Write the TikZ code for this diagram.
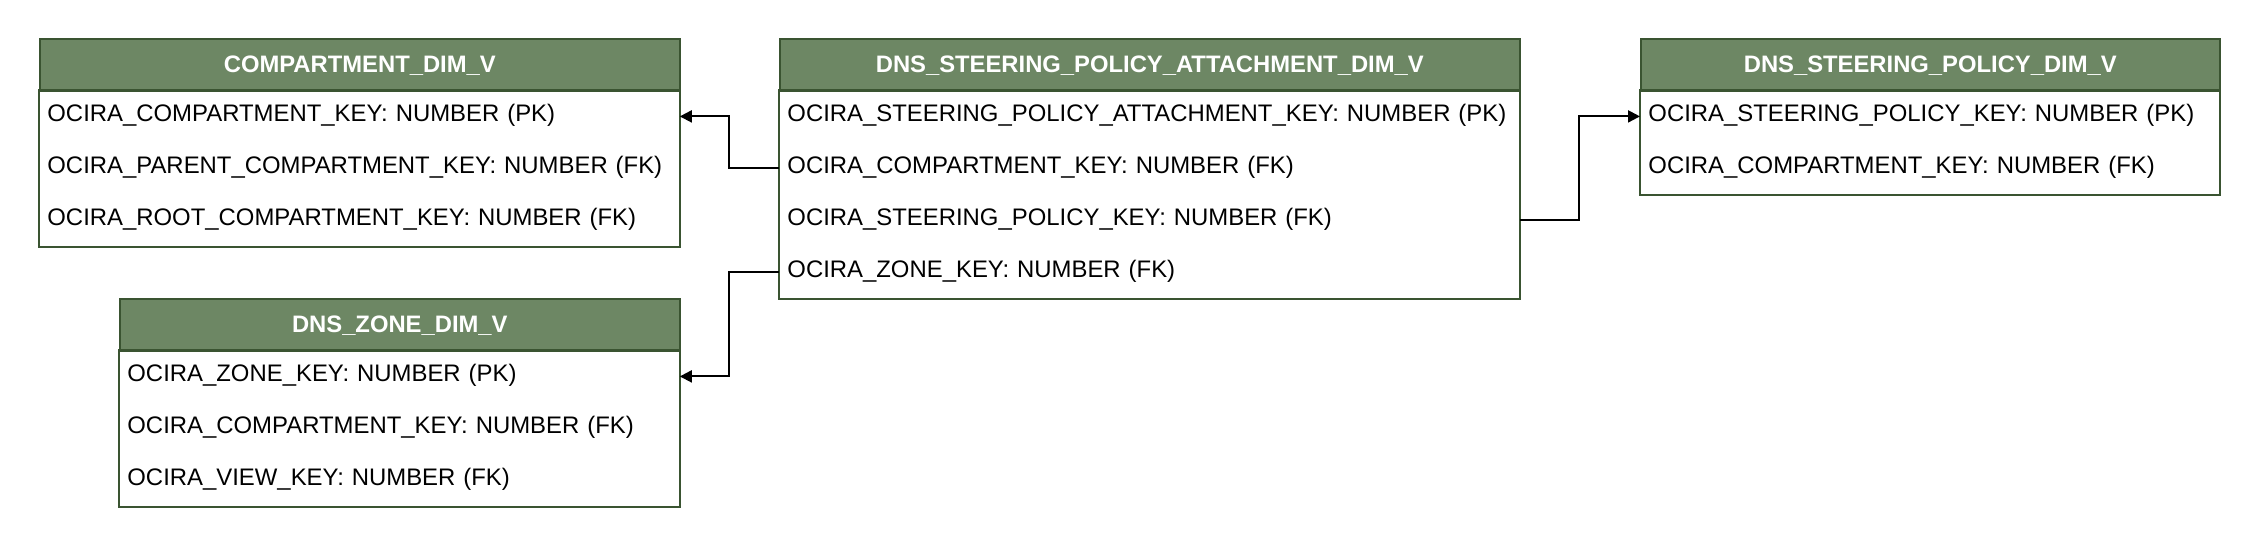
\documentclass[tikz,border=0pt]{standalone}
\usepackage{fontspec}
\setmainfont{Liberation Sans}
\usetikzlibrary{arrows.meta}
\definecolor{hdrfill}{HTML}{6D8764}
\definecolor{hdrline}{HTML}{3A5431}
\tikzset{
  hdr/.style={draw=hdrline, fill=hdrfill, line width=0.8pt, anchor=north west,
    minimum height=26pt, inner sep=0pt, text width=#1, align=center,
    font=\bfseries\fontsize{11.9}{14}\selectfont, text=white,
    text height=8.5pt, text depth=0.5pt},
  rowbox/.style={anchor=north west, minimum height=26pt, inner ysep=0pt,
    inner xsep=4pt, text width=#1, align=left,
    font=\fontsize{11.95}{14}\selectfont, text height=6.6pt, text depth=1.5pt},
  body/.style={draw=hdrline, line width=0.8pt},
  conn/.style={draw=black, line width=1pt, -{Triangle[length=6pt,width=6pt]}}
}
\begin{document}
\begin{tikzpicture}[x=0.5pt,y=-0.5pt]
\useasboundingbox (1,2) rectangle (2261,550);
% COMPARTMENT_DIM_V
\node[hdr=320pt] (ch) at (40,40) {COMPARTMENT\_DIM\_V};
\node[rowbox=312pt] (c1) at (40,92) {OCIRA\_COMPARTMENT\_KEY: NUMBER (PK)};
\node[rowbox=312pt] (c2) at (40,144) {OCIRA\_PARENT\_COMPARTMENT\_KEY: NUMBER (FK)};
\node[rowbox=312pt] (c3) at (40,196) {OCIRA\_ROOT\_COMPARTMENT\_KEY: NUMBER (FK)};
\draw[body] (c1.north west) rectangle (c3.south east);
% DNS_ZONE_DIM_V
\node[hdr=280pt] (zh) at (120,300) {DNS\_ZONE\_DIM\_V};
\node[rowbox=272pt] (z1) at (120,352) {OCIRA\_ZONE\_KEY: NUMBER (PK)};
\node[rowbox=272pt] (z2) at (120,404) {OCIRA\_COMPARTMENT\_KEY: NUMBER (FK)};
\node[rowbox=272pt] (z3) at (120,456) {OCIRA\_VIEW\_KEY: NUMBER (FK)};
\draw[body] (z1.north west) rectangle (z3.south east);
% DNS_STEERING_POLICY_ATTACHMENT_DIM_V
\node[hdr=370pt] (ah) at (780,40) {DNS\_STEERING\_POLICY\_ATTACHMENT\_DIM\_V};
\node[rowbox=362pt] (a1) at (780,92) {OCIRA\_STEERING\_POLICY\_ATTACHMENT\_KEY: NUMBER (PK)};
\node[rowbox=362pt] (a2) at (780,144) {OCIRA\_COMPARTMENT\_KEY: NUMBER (FK)};
\node[rowbox=362pt] (a3) at (780,196) {OCIRA\_STEERING\_POLICY\_KEY: NUMBER (FK)};
\node[rowbox=362pt] (a4) at (780,248) {OCIRA\_ZONE\_KEY: NUMBER (FK)};
\draw[body] (a1.north west) rectangle (a4.south east);
% DNS_STEERING_POLICY_DIM_V
\node[hdr=289.5pt] (ph) at (1641,40) {DNS\_STEERING\_POLICY\_DIM\_V};
\node[rowbox=281.5pt] (p1) at (1641,92) {OCIRA\_STEERING\_POLICY\_KEY: NUMBER (PK)};
\node[rowbox=281.5pt] (p2) at (1641,144) {OCIRA\_COMPARTMENT\_KEY: NUMBER (FK)};
\draw[body] (p1.north west) rectangle (p2.south east);
% connectors
\draw[conn] (a2.west) -- ++(-50,0) |- (c1.east);
\draw[conn] (a4.west) -- ++(-50,0) |- (z1.east);
\draw[conn] (a3.east) -- ++(59,0) |- (p1.west);
\end{tikzpicture}
\end{document}
